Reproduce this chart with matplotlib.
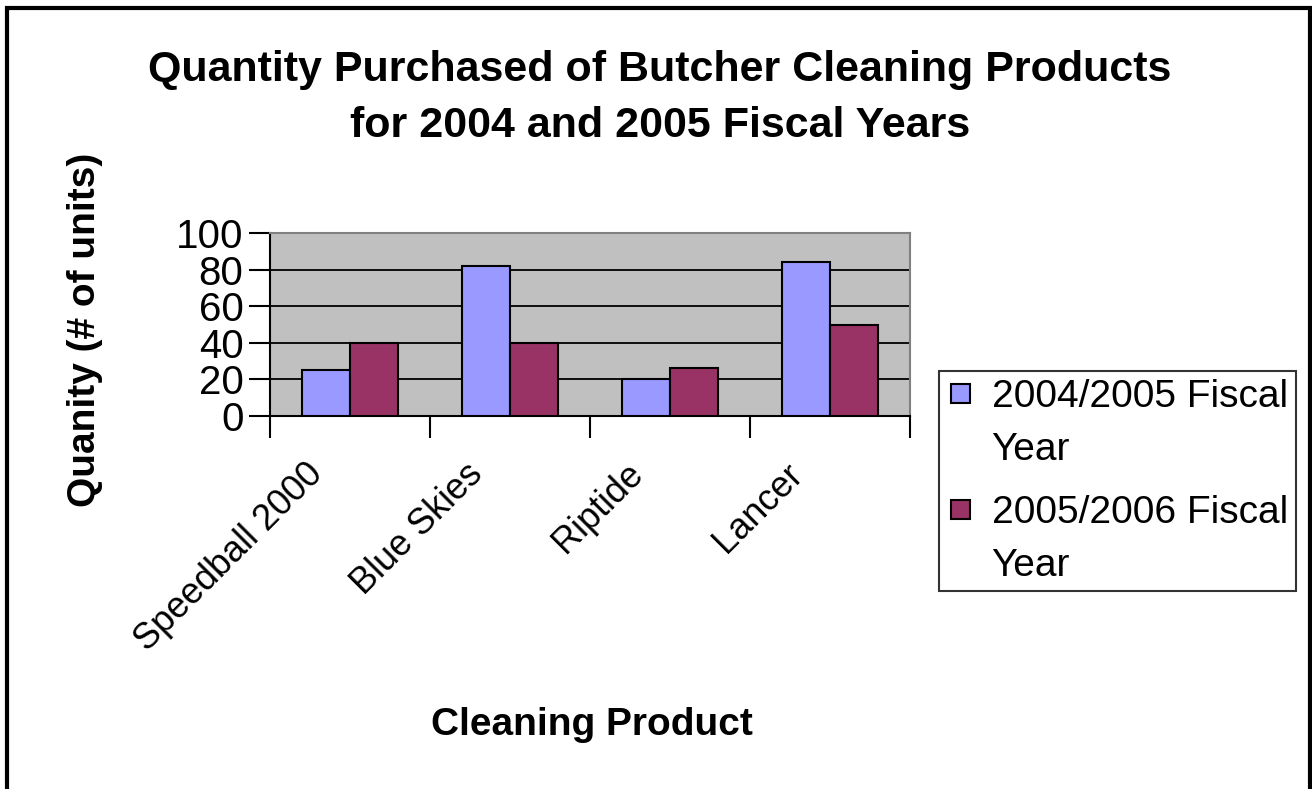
import numpy as np
import matplotlib.pyplot as plt
import matplotlib.transforms as mtransforms
from matplotlib.patches import Rectangle
from matplotlib.legend_handler import HandlerPatch

products = ['Speedball 2000', 'Blue Skies', 'Riptide', 'Lancer']
fy_2004 = [25, 82, 20, 84]
fy_2005 = [40, 40, 26, 50]
series_names = ['2004/2005 Fiscal\nYear', '2005/2006 Fiscal\nYear']

plt.rcParams['font.family'] = ['Liberation Sans', 'DejaVu Sans']

fig = plt.figure(figsize=(13.12, 7.89), dpi=100)
ax = fig.add_axes([270 / 1312, 1 - 416 / 789, 640 / 1312, 183 / 789])

x = np.arange(len(products))
w = 0.3
b1 = ax.bar(x - w / 2, fy_2004, w, color='#9999FF', edgecolor='black', linewidth=1.5, zorder=3)
b2 = ax.bar(x + w / 2, fy_2005, w, color='#993366', edgecolor='black', linewidth=1.5, zorder=3)

ax.set_facecolor('#C0C0C0')
ax.set_xlim(-0.5, len(products) - 0.5)
ax.set_ylim(0, 100)
ax.set_yticks(range(0, 101, 20))
ax.yaxis.grid(True, color='black', linewidth=1.3, zorder=1)
ax.set_axisbelow(True)

# category ticks at boundaries, labels centred
ax.set_xticks(np.arange(-0.5, len(products)), minor=True)
ax.set_xticks(x)
ax.set_xticklabels(products, rotation=45, ha='right', rotation_mode='anchor', fontsize=26)
ax.tick_params(axis='x', which='major', length=0, pad=29)
ax.tick_params(axis='x', which='minor', length=16, width=1.5, direction='out')
ax.tick_params(axis='y', length=15, width=1.5, labelsize=29, pad=4)
shift = mtransforms.ScaledTranslation(-45 / 100, 0, fig.dpi_scale_trans)
for lab in ax.get_xticklabels():
    lab.set_transform(lab.get_transform() + shift)

for s in ['top', 'right']:
    ax.spines[s].set_color('#808080')
    ax.spines[s].set_linewidth(1.5)
for s in ['left', 'bottom']:
    ax.spines[s].set_color('black')
    ax.spines[s].set_linewidth(1.5)

fig.text(592 / 1312, 1 - 725 / 789, 'Cleaning Product', fontsize=28, fontweight='bold',
         ha='center', va='center')
fig.text(85 / 1312, 1 - 330 / 789, 'Quanity (# of units)', rotation=90, fontsize=28,
         fontweight='bold', ha='center', va='center')

fig.text(660 / 1312, 1 - 98 / 789, 'Quantity Purchased of Butcher Cleaning Products\nfor 2004 and 2005 Fiscal Years',
         ha='center', va='center', fontsize=31, fontweight='bold', linespacing=1.5)


# legend square sits beside the first line of the two-line label
def top_square(legend, orig_handle, xdescent, ydescent, width, height, fontsize):
    side = 0.48 * fontsize
    return Rectangle((-xdescent + width - side, -ydescent + 0.8 * fontsize), side, side)


leg = fig.legend([b1[0], b2[0]], series_names, loc='upper left',
                 bbox_to_anchor=(939 / 1312, 1 - 371 / 789), fontsize=28,
                 frameon=True, fancybox=False, edgecolor='black', handlelength=0.6,
                 handleheight=0.48, handletextpad=0.55, labelspacing=0.7, borderpad=0.2,
                 borderaxespad=0, handler_map={Rectangle: HandlerPatch(patch_func=top_square)})
leg.get_frame().set_linewidth(1.5)
for t in leg.get_texts():
    t.set_linespacing(1.6)

# outer chart border (bottom edge cut off)
fig.patches.append(Rectangle((7 / 1312, -0.02), 1303 / 1312, 1.02 - 8 / 789,
                             transform=fig.transFigure, fill=False, edgecolor='black', linewidth=3))

fig.savefig('out.png', dpi=100)
